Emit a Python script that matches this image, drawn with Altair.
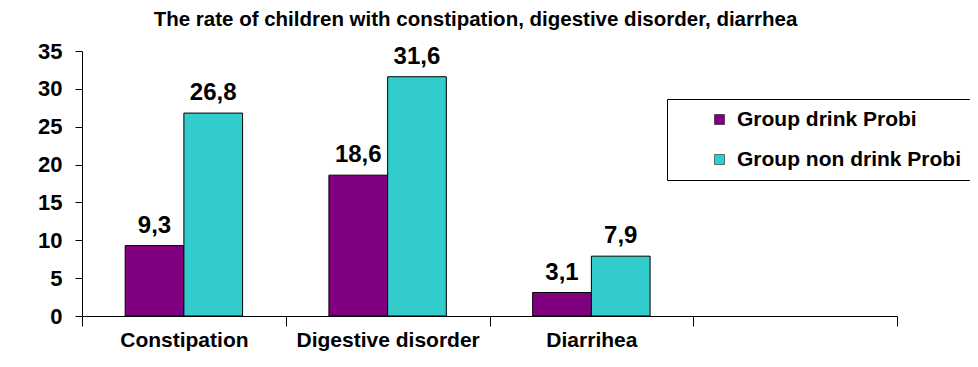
import altair as alt
import pandas as pd

categories = ["Constipation", "Digestive disorder", "Diarrihea"]
x_domain = ["Constipation", "Digestive disorder", "Diarrihea", " "]
groups = ["Group drink Probi", "Group non drink Probi"]
drink = [9.3, 18.6, 3.1]
non_drink = [26.8, 31.6, 7.9]
colors = ["#800080", "#33CCCC"]
y_ticks = [0, 5, 10, 15, 20, 25, 30, 35]

rows = []
for i, c in enumerate(categories):
    rows.append({"cat": c, "group": groups[0], "value": drink[i]})
    rows.append({"cat": c, "group": groups[1], "value": non_drink[i]})
df = pd.DataFrame(rows)
df["label"] = df["value"].map(lambda v: f"{v:.1f}".replace(".", ","))

FONT = "Liberation Sans"

x = alt.X("cat:N", sort=x_domain,
          scale=alt.Scale(domain=x_domain, paddingInner=0, paddingOuter=0),
          axis=alt.Axis(title=None, labelAngle=0, tickBand="extent", tickSize=10,
                        tickColor="black", domainColor="black", labelFont=FONT,
                        labelFontSize=21, labelFontWeight="bold", labelColor="black",
                        labelPadding=3, labelLimit=400, grid=False))
xo = alt.XOffset("group:N", sort=groups,
                 scale=alt.Scale(domain=groups, paddingInner=0, paddingOuter=0.735))
y = alt.Y("value:Q", scale=alt.Scale(domain=[0, 35], nice=False),
          axis=alt.Axis(title=None, values=y_ticks, grid=False, tickSize=7,
                        tickColor="black", domainColor="black", labelFont=FONT,
                        labelFontSize=22, labelFontWeight="bold", labelColor="black",
                        labelPadding=13))

bars = alt.Chart(df).mark_bar(stroke="black", strokeWidth=1).encode(
    x=x, xOffset=xo, y=y,
    color=alt.Color("group:N", sort=groups,
                    scale=alt.Scale(domain=groups, range=colors),
                    legend=alt.Legend(title=None, orient="none", legendX=585, legendY=48,
                                      padding=10, rowPadding=18, strokeColor="black",
                                      fillColor="white", cornerRadius=0,
                                      symbolType="square", symbolSize=100,
                                      symbolStrokeColor="black", symbolStrokeWidth=0.5,
                                      symbolOffset=32, labelOffset=7,
                                      labelFont=FONT, labelFontSize=21,
                                      labelFontWeight="bold", labelColor="black",
                                      labelLimit=400)),
)

labels = alt.Chart(df).mark_text(baseline="bottom", dy=-8, font=FONT, fontSize=24,
                                 fontWeight="bold", color="black").encode(
    x=x, xOffset=xo, y=y, text="label:N"
)

chart = alt.layer(bars, labels).properties(
    width=815, height=265,
    title=alt.TitleParams("The rate of children with constipation, digestive disorder, diarrhea",
                          font=FONT, fontSize=20.5, fontWeight="bold", color="black",
                          anchor="middle", baseline="bottom", offset=4, dx=-14, dy=14),
    autosize=alt.AutoSizeParams(type="none"),
    padding={"left": 74, "top": 43, "right": 73, "bottom": 43},
).configure_view(stroke=None)

chart.save("out.html", embed_options={"renderer": "svg", "actions": False})
